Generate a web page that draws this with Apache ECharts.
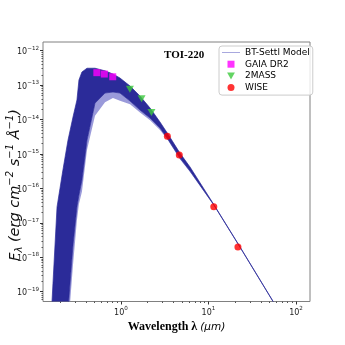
<!DOCTYPE html>
<html>
<head>
  <meta charset="utf-8">
</head>
<body style="margin: 0">
  <div id="container" style="width: 345px; height: 345px"></div>
  <script type="text/javascript" src="https://fastly.jsdelivr.net/npm/echarts@6.0.0/dist/echarts.min.js"></script>
  <script type="text/javascript">
    var modelWave  = [0.154, 0.163, 0.186, 0.217, 0.248, 0.283, 0.314, 0.331, 0.358, 0.409, 0.505, 0.657, 0.81, 0.974, 1.27, 1.65, 2.15, 2.79, 3.44, 4.72, 6.15, 11.6, 22.3, 54.6, 65.6];
    var modelUpper = [1.5e-20, 5.3e-20, 2.9e-17, 3.4e-16, 2.5e-15, 1.18e-14, 3.7e-14, 1.41e-13, 2.4e-13, 3.1e-13, 3.1e-13, 2.6e-13, 2.1e-13, 1.61e-13, 9.4e-14, 4.8e-14, 2.16e-14, 8.5e-15, 3.8e-15, 1.06e-15, 4.2e-16, 3.3e-17, 2.25e-18, 5.3e-20, 2.5e-20];
    var modelLower = [7.6e-21, 7.6e-21, 7.6e-21, 7.6e-21, 2.9e-20, 2.25e-18, 2.9e-17, 6.4e-17, 1.74e-16, 2.5e-15, 3.0e-14, 5.9e-14, 6.3e-14, 5.9e-14, 3.45e-14, 1.89e-14, 1.11e-14, 5.7e-15, 2.7e-15, 7.6e-16, 3.2e-16, 3.2e-17, 2.2e-18, 5.2e-20, 2.45e-20];
    var modelFaint = [6.7e-21, 6.7e-21, 6.7e-21, 6.7e-21, 7.6e-21, 6.0e-19, 1.2e-17, 3.5e-17, 8.0e-17, 1.3e-15, 1.3e-14, 3.2e-14, 4.2e-14, 3.5e-14, 2.8e-14, 1.6e-14, 9.5e-15, 5.0e-15, 2.5e-15, 7.0e-16, 3.0e-16, 3.15e-17, 2.15e-18, 5.1e-20, 2.4e-20];

    // photometry
    var gaiaWave = [0.53, 0.645, 0.805];
    var gaiaFlux = [2.3e-13, 2.1e-13, 1.75e-13];
    var tmassWave = [1.265, 1.72, 2.23];
    var tmassFlux = [7.6e-14, 4.0e-14, 1.6e-14];
    var wiseWave = [3.39, 4.64, 11.5, 21.7];
    var wiseFlux = [3.3e-15, 9.3e-16, 2.95e-17, 2.0e-18];

    // tick exponents
    var xTickExp = [0, 1, 2];
    var yTickExp = [-19, -18, -17, -16, -15, -14, -13, -12];

    var lg = Math.log10;
    var xMin = -0.891, xMax = 2.16;
    var yMin = -19.285, yMax = -11.747;

    function minorTicks(lo, hi) {
      var out = [];
      for (var n = Math.floor(lo); n <= Math.ceil(hi); n++) {
        for (var k = 2; k <= 9; k++) {
          var v = n + lg(k);
          if (v >= lo && v <= hi) out.push(v);
        }
      }
      return out;
    }

    function pow10Label(v) {
      var e = String(Math.round(v)).replace('-', '\u2212');
      return '{b|10}{s|' + e + '}';
    }
    var tickRich = {
      b: { fontSize: 8, lineHeight: 11, verticalAlign: 'bottom', fontFamily: 'DejaVu Sans', color: '#222' },
      s: { fontSize: 5.6, lineHeight: 7, verticalAlign: 'top', fontFamily: 'DejaVu Sans', color: '#222' }
    };

    function pts(wave, flux) {
      return wave.map(function (w, i) { return [lg(w), lg(flux[i])]; });
    }

    // closed outline: one edge forward, the other back
    function band(top, bottom) {
      var a = pts(modelWave, top);
      var b = pts(modelWave, bottom).reverse();
      return a.concat(b);
    }

    function polygonItem(fill, stroke) {
      return function (params, api) {
        if (params.dataIndex !== 0) return;
        var data = option.series[params.seriesIndex].data;
        var points = data.map(function (p) { return api.coord(p); });
        var cs = params.coordSys;
        return {
          type: 'polygon',
          shape: { points: points },
          style: { fill: fill, stroke: stroke, lineWidth: 0.7 },
          clipPath: { type: 'rect', shape: { x: cs.x, y: cs.y, width: cs.width, height: cs.height } }
        };
      };
    }

    var dom = document.getElementById('container');
    var myChart = echarts.init(dom, null, { renderer: 'canvas' });

    var darkBlue = '#2b2b99';
    var squarePath = 'path://M0,0 L10,0 L10,10 L0,10 Z';
    var downTriangle = 'path://M0,0 L10,0 L5,9 Z';

    var option = {
      animation: false,
      title: {
        text: 'TOI-220',
        left: 164,
        top: 50,
        padding: 0,
        textStyle: { fontFamily: 'Liberation Serif', fontWeight: 'bold', fontSize: 11, color: '#000' }
      },
      legend: {
        orient: 'vertical',
        left: 219,
        top: 46,
        padding: [1, 3, 2, 3],
        itemWidth: 18,
        itemHeight: 7,
        itemGap: 0.7,
        borderColor: '#cccccc',
        borderWidth: 1,
        borderRadius: 3,
        backgroundColor: 'rgba(255,255,255,0.8)',
        textStyle: { fontFamily: 'DejaVu Sans', fontSize: 9, lineHeight: 11, color: '#000' },
        data: [
          { name: 'BT-Settl Model', icon: 'path://M0,0 L18,0 L18,0.8 L0,0.8 Z', itemStyle: { color: '#9393d6' } },
          'GAIA DR2', '2MASS', 'WISE'
        ]
      },
      grid: {
        left: 43, right: 35, top: 42, bottom: 43.5,
        show: true, borderColor: '#808080', borderWidth: 1, backgroundColor: 'transparent'
      },
      graphic: [{
        type: 'text',
        x: 15,
        y: 185,
        rotation: Math.PI / 2,
        style: {
          text: '{i|F}{sub|\u03bb}{i| (erg cm}{sup|\u22122}{i| s}{sup|\u22121}{i| \u00c5}{sup|\u22121}{i|)}',
          align: 'center',
          verticalAlign: 'middle',
          rich: {
            i: { fontFamily: 'DejaVu Sans', fontStyle: 'italic', fontSize: 14.5, lineHeight: 19, fill: '#111', verticalAlign: 'middle' },
            sup: { fontFamily: 'DejaVu Sans', fontStyle: 'italic', fontSize: 10, lineHeight: 10, fill: '#111', verticalAlign: 'top' },
            sub: { fontFamily: 'DejaVu Sans', fontStyle: 'italic', fontSize: 10, lineHeight: 10, fill: '#111', verticalAlign: 'bottom' }
          }
        }
      }],
      xAxis: [{
        type: 'value', min: xMin, max: xMax,
        name: '{b|Wavelength \u03bb }{i|(\u03bcm)}',
        nameLocation: 'middle', nameGap: 10,
        nameTextStyle: {
          rich: {
            b: { fontFamily: 'Liberation Serif', fontWeight: 'bold', fontSize: 12, color: '#000' },
            i: { fontFamily: 'DejaVu Sans', fontStyle: 'italic', fontSize: 10.5, color: '#000' }
          }
        },
        axisLine: { show: false, onZero: false },
        splitLine: { show: false },
        axisTick: { show: true, length: 3, lineStyle: { color: '#333' }, customValues: xTickExp },
        axisLabel: { margin: 4, formatter: pow10Label, rich: tickRich, customValues: xTickExp }
      }, {
        type: 'value', min: xMin, max: xMax, position: 'bottom',
        axisLine: { show: false, onZero: false }, splitLine: { show: false },
        axisLabel: { show: false },
        axisTick: { show: true, length: 1.5, lineStyle: { color: '#555' }, customValues: minorTicks(xMin, xMax) }
      }],
      yAxis: [{
        type: 'value', min: yMin, max: yMax,
        axisLine: { show: false, onZero: false },
        splitLine: { show: false },
        axisTick: { show: true, length: 3, lineStyle: { color: '#333' }, customValues: yTickExp },
        axisLabel: { margin: 4, formatter: pow10Label, rich: tickRich, customValues: yTickExp }
      }, {
        type: 'value', min: yMin, max: yMax, position: 'left',
        axisLine: { show: false, onZero: false }, splitLine: { show: false },
        axisLabel: { show: false },
        axisTick: { show: true, length: 1.5, lineStyle: { color: '#555' }, customValues: minorTicks(yMin, yMax) }
      }],
      series: [
        {
          name: 'faint', type: 'custom', data: band(modelLower, modelFaint),
          renderItem: polygonItem('rgba(120,120,205,0.75)', 'none'), z: 1
        },
        {
          name: 'BT-Settl Model', type: 'custom', data: band(modelUpper, modelLower),
          renderItem: polygonItem(darkBlue, darkBlue), z: 2
        },
        {
          name: 'GAIA DR2', type: 'scatter', data: pts(gaiaWave, gaiaFlux),
          symbol: squarePath, symbolSize: 7, itemStyle: { color: '#ff00ff' }, z: 5
        },
        {
          name: '2MASS', type: 'scatter', data: pts(tmassWave, tmassFlux),
          symbol: downTriangle, symbolSize: [8, 7], itemStyle: { color: '#3cc93c' }, z: 5
        },
        {
          name: 'WISE', type: 'scatter', data: pts(wiseWave, wiseFlux),
          symbol: 'circle', symbolSize: 7, itemStyle: { color: '#ff0000' }, z: 5
        }
      ]
    };

    myChart.setOption(option);
    window.addEventListener('resize', myChart.resize);
  </script>
</body>
</html>
